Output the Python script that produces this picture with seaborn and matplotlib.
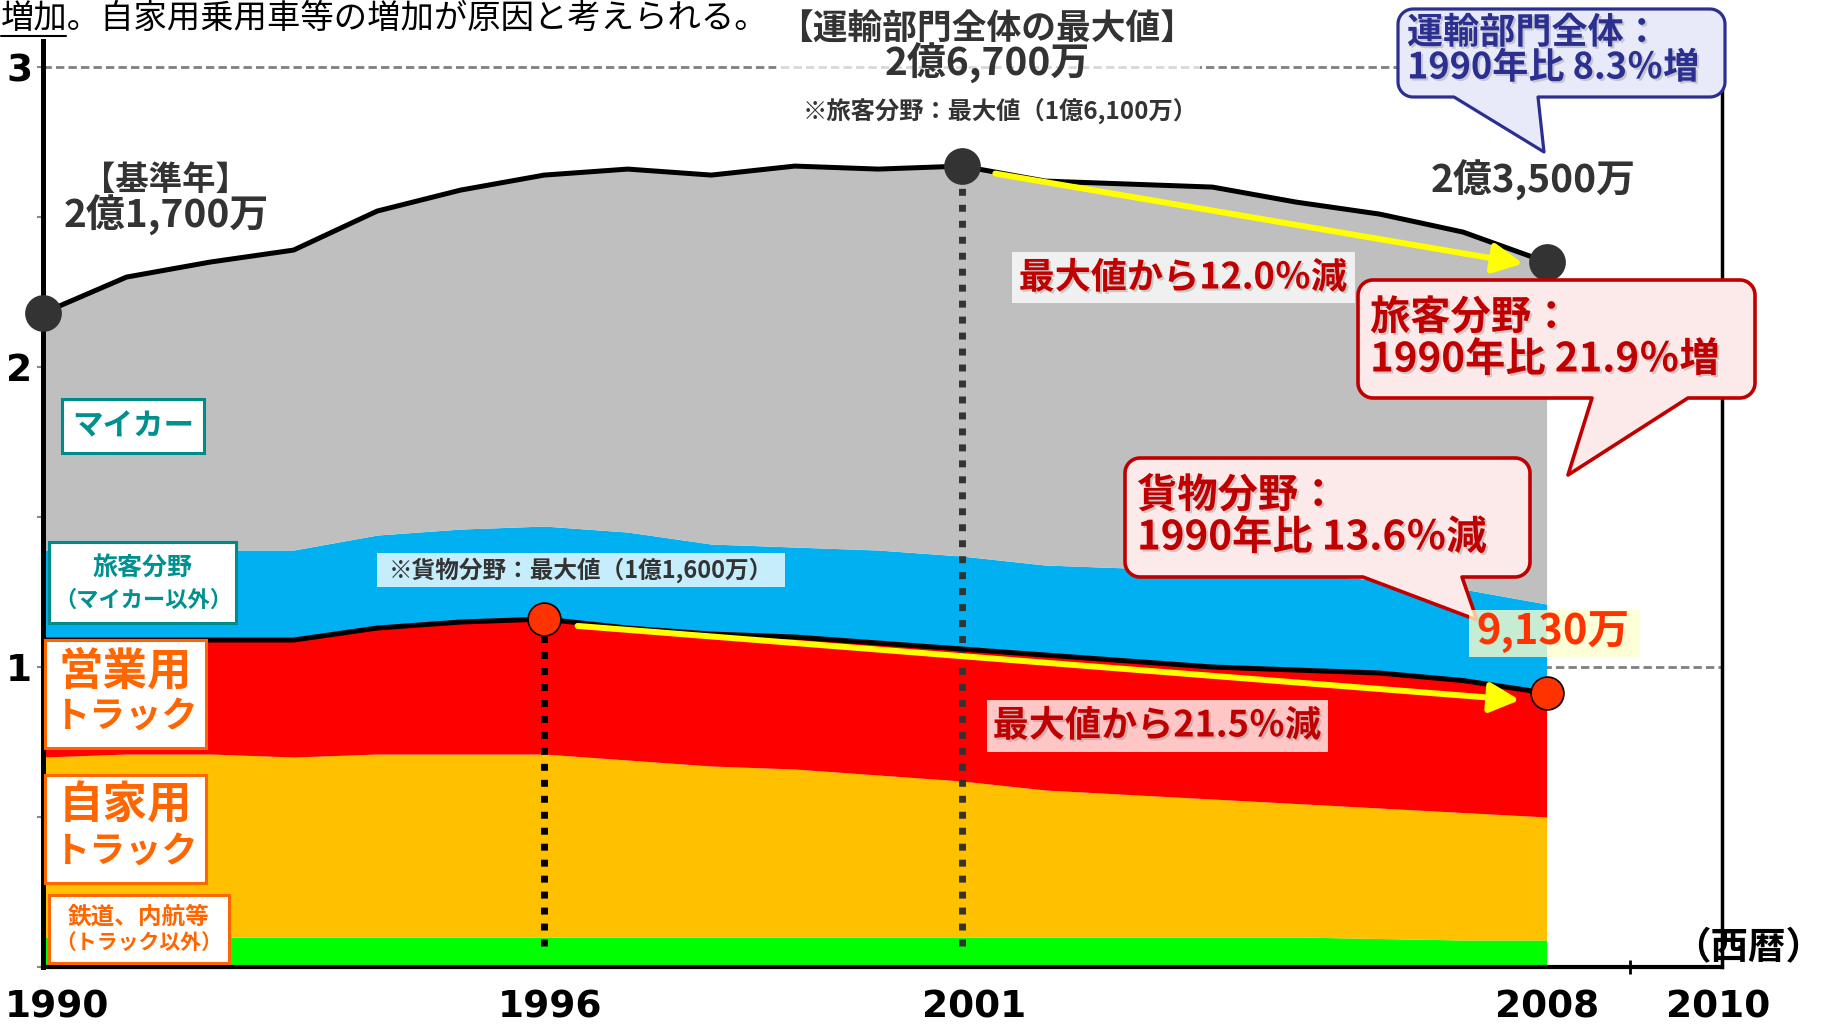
import numpy as np
import matplotlib
matplotlib.use("Agg")
import matplotlib.pyplot as plt
import matplotlib.patheffects as pe
from matplotlib.patches import Polygon, Rectangle, FancyArrowPatch
from matplotlib.transforms import ScaledTranslation
import seaborn as sns

# 年（西暦）
years = [1990, 1991, 1992, 1993, 1994, 1995, 1996, 1997, 1998, 1999,
         2000, 2001, 2002, 2003, 2004, 2005, 2006, 2007, 2008]

# 部門別CO2排出量（億トン）
rail_ship = [0.10, 0.10, 0.10, 0.10, 0.10, 0.10, 0.10, 0.10, 0.10, 0.10,
             0.10, 0.10, 0.10, 0.10, 0.10, 0.10, 0.095, 0.09, 0.09]
private_truck = [0.60, 0.61, 0.61, 0.60, 0.61, 0.61, 0.61, 0.59, 0.57, 0.56,
                 0.54, 0.52, 0.49, 0.475, 0.46, 0.445, 0.435, 0.425, 0.41]
commercial_truck = [0.39, 0.38, 0.38, 0.39, 0.42, 0.44, 0.45, 0.44, 0.44, 0.44,
                    0.44, 0.44, 0.45, 0.445, 0.44, 0.445, 0.45, 0.44, 0.413]
passenger_other = [0.30, 0.30, 0.30, 0.30, 0.31, 0.31, 0.31, 0.32, 0.30, 0.30,
                   0.31, 0.31, 0.30, 0.31, 0.32, 0.32, 0.31, 0.305, 0.297]
my_car = [0.79, 0.91, 0.96, 1.00, 1.08, 1.13, 1.17, 1.21, 1.23, 1.27,
          1.27, 1.30, 1.28, 1.28, 1.28, 1.24, 1.22, 1.19, 1.14]

x_ticks = [1990, 1996, 2001, 2008, 2010]
x_ticklabels = ['1990', '1996', '2001', '2008', '2010']
y_ticks = [0, 0.5, 1, 1.5, 2, 2.5, 3]
y_ticklabels = ['', '', '1', '', '2', '', '3']

# 注目する年
total_marks = [1990, 2001, 2008]
freight_marks = [1996, 2008]

colors = ['#00FF00', '#FFC000', '#FF0000', '#00B0F0', '#BFBFBF']

sns.set_theme(style="white")
plt.rcParams['font.family'] = ['Noto Sans CJK JP', 'DejaVu Sans']

W, H = 1831, 1025
fig = plt.figure(figsize=(W / 100, H / 100), dpi=100)
ax = fig.add_axes([43 / W, 1 - 967 / H, (1722 - 43) / W, (967 - 41) / H])

yr = np.array(years)
freight_total = np.array(rail_ship) + np.array(private_truck) + np.array(commercial_truck)
total = freight_total + np.array(passenger_other) + np.array(my_car)

# グリッド（破線）
for gy in [1, 2, 3]:
    ax.axhline(gy, color='#7F7F7F', lw=2.0, dashes=(3, 1.5), zorder=1)

ax.stackplot(yr, rail_ship, private_truck, commercial_truck, passenger_other, my_car,
             colors=colors, lw=0, zorder=2)

sns.lineplot(x=yr, y=total, color='black', lw=3.6, ax=ax, zorder=4)
sns.lineplot(x=yr, y=freight_total, color='black', lw=3.6, ax=ax, zorder=4)

# 縦の点線
i96 = years.index(1996)
i01 = years.index(2001)
ax.plot([1996, 1996], [0.07, freight_total[i96]], color='black', lw=5,
        linestyle=(0, (1, 1.3)), dash_capstyle='butt', zorder=3)
ax.plot([2001, 2001], [0.07, total[i01]], color='#333333', lw=5,
        linestyle=(0, (1, 1.3)), dash_capstyle='butt', zorder=3)

# 黄色の矢印
ax.add_patch(FancyArrowPatch((2001.4, 2.645), (2007.72, 2.345),
                             arrowstyle='-|>,head_length=1.0,head_width=0.5',
                             mutation_scale=18, color='#FFFF00', lw=4.3,
                             shrinkA=0, shrinkB=0, zorder=5))
ax.add_patch(FancyArrowPatch((1996.4, 1.137), (2007.68, 0.89),
                             arrowstyle='-|>,head_length=1.0,head_width=0.5',
                             mutation_scale=18, color='#FFFF00', lw=4.3,
                             shrinkA=0, shrinkB=0, zorder=5))

ti = [years.index(y) for y in total_marks]
fi = [years.index(y) for y in freight_marks]
sns.scatterplot(x=yr[ti], y=total[ti], s=600, color='#333333', edgecolor='#333333',
                ax=ax, zorder=6, clip_on=False)
sns.scatterplot(x=yr[fi], y=freight_total[fi], s=560, color='#FF3300', edgecolor='black',
                linewidth=1.2, ax=ax, zorder=6, clip_on=False)

ax.set_xlim(1990, 2010.1)
ax.set_ylim(0, 3.087)
ax.set_xlabel('')
ax.set_ylabel('')

ax.set_yticks(y_ticks)
ax.set_yticklabels(y_ticklabels)
ax.set_xticks(x_ticks)
ax.set_xticklabels(x_ticklabels)
ax.set_xticks([2009], minor=True)
ax.tick_params(axis='y', left=True, length=4.3, width=1.5, color='#888888',
               direction='out', pad=3.5)
ax.tick_params(axis='x', which='major', bottom=True, length=0, pad=14)
ax.tick_params(axis='x', which='minor', bottom=True, length=10, width=2,
               direction='inout', color='black')
for lab in ax.get_xticklabels() + ax.get_yticklabels():
    lab.set_fontfamily('DejaVu Sans')
    lab.set_fontweight('bold')
    lab.set_fontsize(27)
    lab.set_color('black')

# 年ラベルの位置を元図に合わせて少しずらす
x_shift = [14, 6, 12, 1, 4]
for lab, dx in zip(ax.get_xticklabels(), x_shift):
    lab.set_transform(lab.get_transform() + ScaledTranslation(dx / 100, -3 / 100, fig.dpi_scale_trans))

for side in ['left', 'bottom', 'right']:
    ax.spines[side].set_color('black')
ax.spines['left'].set_linewidth(3.6)
ax.spines['bottom'].set_linewidth(3.0)
ax.spines['right'].set_linewidth(2.5)
ax.spines['right'].set_bounds(0, 3.02)
ax.spines['top'].set_visible(False)

# 注記用のオーバーレイ（ピクセル座標）
ov = fig.add_axes([0, 0, 1, 1], zorder=10)
ov.set_xlim(0, W)
ov.set_ylim(H, 0)
ov.axis('off')
ov.patch.set_alpha(0)

shadow = [pe.withSimplePatchShadow(offset=(1.5, -1.5), shadow_rgbFace='#808080', alpha=0.35)]


def bubble(x0, y0, x1, y1, bl, br, tip, ec, fc, r=15, lw=2.3):
    def arc(cx, cy, a0, a1):
        t = np.radians(np.linspace(a0, a1, 12))
        return list(zip(cx + r * np.cos(t), cy + r * np.sin(t)))
    pts = arc(x1 - r, y0 + r, -90, 0) + arc(x1 - r, y1 - r, 0, 90)
    pts += [(br, y1), tip, (bl, y1)]
    pts += arc(x0 + r, y1 - r, 90, 180) + arc(x0 + r, y0 + r, 180, 270)
    ov.add_patch(Polygon(pts, closed=True, fc=fc, ec=ec, lw=lw, joinstyle='round', zorder=2))


def label_box(x0, y0, x1, y1, ec, fc='white', lw=2.2, alpha=1.0):
    ov.add_patch(Rectangle((x0, y0), x1 - x0, y1 - y0, fc=fc, ec=ec, lw=lw,
                           alpha=alpha, zorder=2))


dark = '#333333'
red_t = '#C00000'
navy = '#2B2F8F'
teal = '#009090'
orange = '#FF6600'

# 上部の文章
ov.text(1, 18, '増加。自家用乗用車等の増加が原因と考えられる。', fontsize=24,
        ha='left', va='center', color='black')
ov.plot([1, 66], [36, 36], color='black', lw=1.5)

# 最大値の注記
ov.add_patch(Rectangle((776, 4), 424, 74, fc='white', ec='none', alpha=0.7, zorder=1))
ov.text(987, 29, '【運輸部門全体の最大値】', fontsize=25, weight='bold', color=dark,
        ha='center', va='center')
ov.text(987, 63, '2億6,700万', fontsize=28, weight='bold', color=dark, ha='center', va='center')
ov.text(1000, 112, '※旅客分野：最大値（1億6,100万）', fontsize=17.5, weight='bold', color=dark,
        ha='center', va='center')

ov.text(165, 180, '【基準年】', fontsize=24, weight='bold', color=dark, ha='center', va='center')
ov.text(166, 215, '2億1,700万', fontsize=28, weight='bold', color=dark, ha='center', va='center')
ov.text(1533, 180, '2億3,500万', fontsize=28, weight='bold', color=dark, ha='center', va='center')

# 吹き出し：運輸部門全体
bubble(1398, 9, 1725, 97, 1454, 1538, (1544, 152), ec=navy, fc='#E8EAFA')
ov.text(1407, 33, '運輸部門全体：', fontsize=26, weight='bold', color=navy, ha='left',
        va='center', path_effects=shadow, zorder=3)
ov.text(1407, 68, '1990年比 8.3％増', fontsize=26, weight='bold', color=navy, ha='left',
        va='center', path_effects=shadow, zorder=3)

# 吹き出し：旅客分野
bubble(1358, 280, 1755, 398, 1592, 1688, (1568, 475), ec=red_t, fc='#FCE9E9', lw=2.6)
ov.text(1370, 318, '旅客分野：', fontsize=29, weight='bold', color=red_t, ha='left',
        va='center', path_effects=shadow, zorder=3)
ov.text(1370, 360, '1990年比 21.9％増', fontsize=29, weight='bold', color=red_t, ha='left',
        va='center', path_effects=shadow, zorder=3)

# 吹き出し：貨物分野
bubble(1125, 458, 1530, 577, 1363, 1462, (1477, 620), ec=red_t, fc='#FCE9E9', lw=2.6)
ov.text(1137, 496, '貨物分野：', fontsize=29, weight='bold', color=red_t, ha='left',
        va='center', path_effects=shadow, zorder=3)
ov.text(1137, 538, '1990年比 13.6％減', fontsize=29, weight='bold', color=red_t, ha='left',
        va='center', path_effects=shadow, zorder=3)

# 9,130万
label_box(1469, 610, 1640, 657, ec='none', fc='#FFFFCC', lw=0, alpha=0.78)
ov.text(1553, 633, '9,130万', fontsize=30, weight='bold', color='#FF3300', ha='center',
        va='center', zorder=3)

# 減少率
label_box(1012, 252, 1355, 303, ec='none', lw=0, alpha=0.78)
ov.text(1183, 278, '最大値から12.0％減', fontsize=26, weight='bold', color=red_t,
        ha='center', va='center', path_effects=shadow, zorder=3)
label_box(987, 700, 1328, 752, ec='none', lw=0, alpha=0.78)
ov.text(1157, 726, '最大値から21.5％減', fontsize=26, weight='bold', color=red_t,
        ha='center', va='center', path_effects=shadow, zorder=3)

label_box(377, 553, 785, 587, ec='none', lw=0, alpha=0.78)
ov.text(581, 570, '※貨物分野：最大値（1億1,600万）', fontsize=17, weight='bold', color=dark,
        ha='center', va='center', zorder=3)

# 凡例代わりのラベル
label_box(62, 399, 204, 453, ec='#008B8B')
ov.text(133, 426, 'マイカー', fontsize=22, weight='bold', color=teal, ha='center', va='center', zorder=3)

label_box(49, 542, 236, 623, ec='#008B8B')
ov.text(143, 568, '旅客分野', fontsize=18, weight='bold', color=teal, ha='center', va='center', zorder=3)
ov.text(143, 600, '（マイカー以外）', fontsize=16, weight='bold', color=teal, ha='center', va='center', zorder=3)

label_box(45, 640, 206, 748, ec=orange)
ov.text(125, 672, '営業用', fontsize=32, weight='bold', color=orange, ha='center', va='center', zorder=3)
ov.text(125, 717, 'トラック', fontsize=26, weight='bold', color=orange, ha='center', va='center', zorder=3)

label_box(45, 775, 206, 883, ec=orange)
ov.text(125, 806, '自家用', fontsize=32, weight='bold', color=orange, ha='center', va='center', zorder=3)
ov.text(125, 852, 'トラック', fontsize=26, weight='bold', color=orange, ha='center', va='center', zorder=3)

label_box(49, 895, 229, 963, ec=orange)
ov.text(139, 917, '鉄道、内航等', fontsize=17, weight='bold', color=orange, ha='center', va='center', zorder=3)
ov.text(139, 942, '（トラック以外）', fontsize=15, weight='bold', color=orange, ha='center', va='center', zorder=3)

ov.text(1748, 948, '（西暦）', fontsize=27, weight='bold', color='black', ha='center', va='center')

fig.savefig('out.png', dpi=100)
